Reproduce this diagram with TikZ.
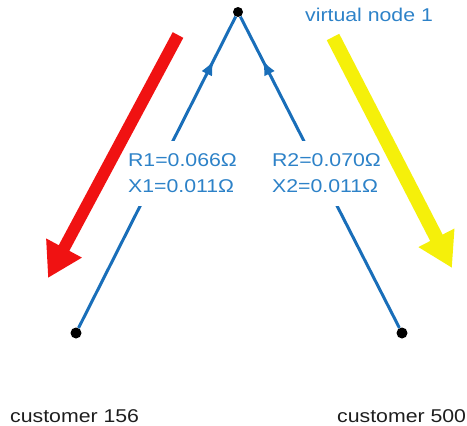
\documentclass[tikz,border=0pt]{standalone}
\usepackage{fontspec}
\setmainfont{Liberation Sans}
\usepackage{graphicx}
\usetikzlibrary{arrows.meta,decorations.markings}

\definecolor{linkblue}{RGB}{25,110,185}
\definecolor{labelblue}{RGB}{45,130,200}
\definecolor{flowred}{RGB}{240,18,18}
\definecolor{flowyellow}{RGB}{245,240,10}
\definecolor{captiongray}{RGB}{30,30,30}

% text is set slightly wide
\newcommand{\widetxt}[1]{\scalebox{1.15}[1]{#1}}

\tikzset{
  busdot/.style={circle, fill=black, inner sep=0pt, minimum size=#1},
  link/.style={draw=linkblue, line width=3pt,
    postaction={decorate},
    decoration={markings,
      mark=at position 0.86 with {\arrow[linkblue]{Latex[length=15pt,width=12pt]}}}},
  imped/.style={fill=white, text=labelblue, align=left,
    font=\fontsize{18.5}{26}\selectfont, inner xsep=5pt, inner ysep=13pt},
  caption/.style={font=\fontsize{18.5}{22}\selectfont, inner sep=0pt},
  flow/.style={line width=#1},
}

\begin{document}
\begin{tikzpicture}[x=1pt,y=-1pt]
\useasboundingbox (0,0) rectangle (467,426);

% buses
\node[busdot=10pt] (vn)   at (238,12)  {};
\node[busdot=11pt] (c156) at (76,333)  {};
\node[busdot=11pt] (c500) at (402,333) {};

% feeder branches towards the virtual node
\draw[link] (c156) -- (vn);
\draw[link] (c500) -- (vn);

% branch impedances
\node[imped] (z1) at (182.5,173.4) {\widetxt{R1=0.066Ω}\\\widetxt{X1=0.011Ω}};
\node[imped] (z2) at (326.5,173.4) {\widetxt{R2=0.070Ω}\\\widetxt{X2=0.011Ω}};

% captions
\node[caption, text=labelblue, anchor=base west] (vnlabel) at (305,21) {\widetxt{virtual node 1}};
\node[caption, text=captiongray, anchor=base west] (c156label) at (10,422) {\widetxt{customer 156}};
\node[caption, text=captiongray, anchor=base west] (c500label) at (337,422) {\widetxt{customer 500}};

% power flow directions
\coordinate (redstart) at (178,35);
\coordinate (redtip) at (48,278);
\coordinate (yelstart) at (333,37);
\coordinate (yeltip) at (452,268);
\draw[flow=12pt, flowred, -{Triangle[length=34pt,width=38pt]}] (redstart) -- (redtip);
\draw[flow=14pt, flowyellow, -{Triangle[length=34pt,width=38pt]}] (yelstart) -- (yeltip);
\end{tikzpicture}
\end{document}
